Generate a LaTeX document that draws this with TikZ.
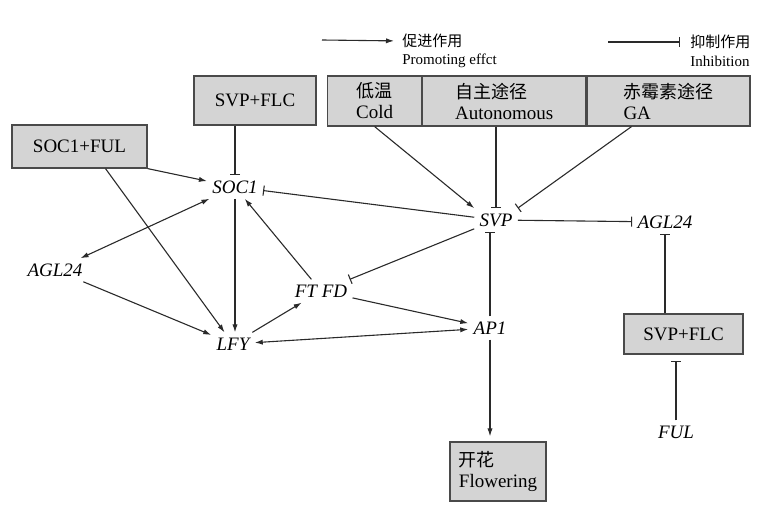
\documentclass[tikz,border=0pt]{standalone}
\usepackage{fontspec}
\setmainfont{Liberation Serif}
\newfontfamily\cjk{Noto Sans CJK SC}
\usepackage{xcolor}
\usepackage{tikz}
\usetikzlibrary{arrows.meta,positioning}
\definecolor{boxgray}{HTML}{D4D4D4}
\definecolor{edgegray}{HTML}{4A4A4A}
\definecolor{linegray}{HTML}{2A2A2A}

\begin{document}
\begin{tikzpicture}[x=0.5pt, y=-0.5pt,
  box/.style={rectangle, draw=edgegray, fill=boxgray, line width=0.6pt, inner sep=0pt, font=\fontsize{9.5}{10.5}\selectfont, align=left},
  cell/.style={box, minimum height=25pt, anchor=west},
  gene/.style={inner sep=2.5pt, font=\fontsize{9.5}{11}\selectfont\itshape},
  legtxt/.style={inner sep=0pt, font=\fontsize{7.5}{9}\selectfont, anchor=west},
  act/.style={-{Latex[length=4pt,width=2.6pt]}, line width=0.55pt, draw=linegray},
  both/.style={{Latex[length=4pt,width=2.6pt]}-{Latex[length=4pt,width=2.6pt]}, line width=0.55pt, draw=linegray},
  inh/.style={-{Bar[width=5pt]}, line width=0.55pt, draw=linegray}
]
\useasboundingbox (0,0) rectangle (777,523);
\coordinate (promS) at (322,40);
\node[legtxt] (promcn) at (402,41) {{\cjk 促进作用}};
\node[legtxt] (promen) at (402,61) {Promoting effct};
\draw[act, shorten >=4pt] (promS) -- (promcn.west);
\coordinate (inhS) at (608,42);
\node[legtxt] (inhcn) at (690,42) {{\cjk 抑制作用}};
\node[legtxt] (inhen) at (690,61) {Inhibition};
\draw[inh, shorten >=5pt] (inhS) -- (inhcn.west);
\node[cell, minimum width=47pt] (cold) at (327,101) {{\cjk\fontsize{9}{10.5}\selectfont 低温}\\Cold};
\node[cell, minimum width=81.5pt, right=0pt of cold] (auto) {{\cjk\fontsize{9}{10.5}\selectfont 自主途径}\\Autonomous};
\node[cell, minimum width=81.5pt, right=0pt of auto] (ga) {{\cjk\fontsize{9}{10.5}\selectfont 赤霉素途径}\\GA};
\node[box, minimum width=61pt, minimum height=24.5pt] (flcT) at (255,100.5) {SVP+FLC};
\node[box, minimum width=67.5pt, minimum height=21.5pt] (sofu) at (79.5,146.5) {SOC1+FUL};
\node[box, minimum width=59.5pt, minimum height=20pt] (flcR) at (683.5,334) {SVP+FLC};
\node[box, minimum width=48pt, minimum height=29.5pt] (flower) at (498,471.5) {{\cjk\fontsize{9}{10.5}\selectfont 开花}\\Flowering};
\node[gene] (soc1) at (235,187) {SOC1};
\node[gene] (svp) at (496,220) {SVP};
\node[gene] (aglL) at (55,270) {AGL24};
\node[gene] (ftfd) at (321,291) {FT FD};
\node[gene] (lfy) at (233,344) {LFY};
\node[gene] (ap1) at (490,328) {AP1};
\node[gene] (aglR) at (665,222) {AGL24};
\node[gene] (ful) at (676,432) {FUL};
\draw[act] (sofu.south east) -- (soc1);
\draw[act] ([xshift=13pt]sofu.south) -- (lfy);
\draw[inh] (flcT.south -| soc1) -- (soc1);
\draw[both] (aglL) -- (soc1);
\draw[act] (aglL) -- (lfy);
\draw[act] (soc1) -- (soc1 |- lfy.north);
\draw[act] (ftfd) -- (soc1);
\draw[act] (lfy) -- (ftfd);
\draw[act] (ftfd) -- (ap1);
\draw[both] (lfy) -- (ap1);
\draw[inh] (svp) -- (soc1);
\draw[inh] (svp) -- (ftfd);
\draw[act] (cold.south) -- (svp.north west);
\draw[inh] (auto.south -| svp.north) -- (svp.north);
\draw[inh] ([xshift=-18.5pt]ga.south) -- (svp.north east);
\draw[inh] (ap1) -- (ap1 |- svp.south);
\draw[inh] (svp) -- (aglR);
\draw[inh] (flcR.north -| aglR.south) -- (aglR.south);
\draw[inh, shorten >=3pt] (ful) -- (ful |- flcR.south);
\draw[act, shorten >=2.5pt] (ap1) -- (ap1 |- flower.north);
\end{tikzpicture}
\end{document}
